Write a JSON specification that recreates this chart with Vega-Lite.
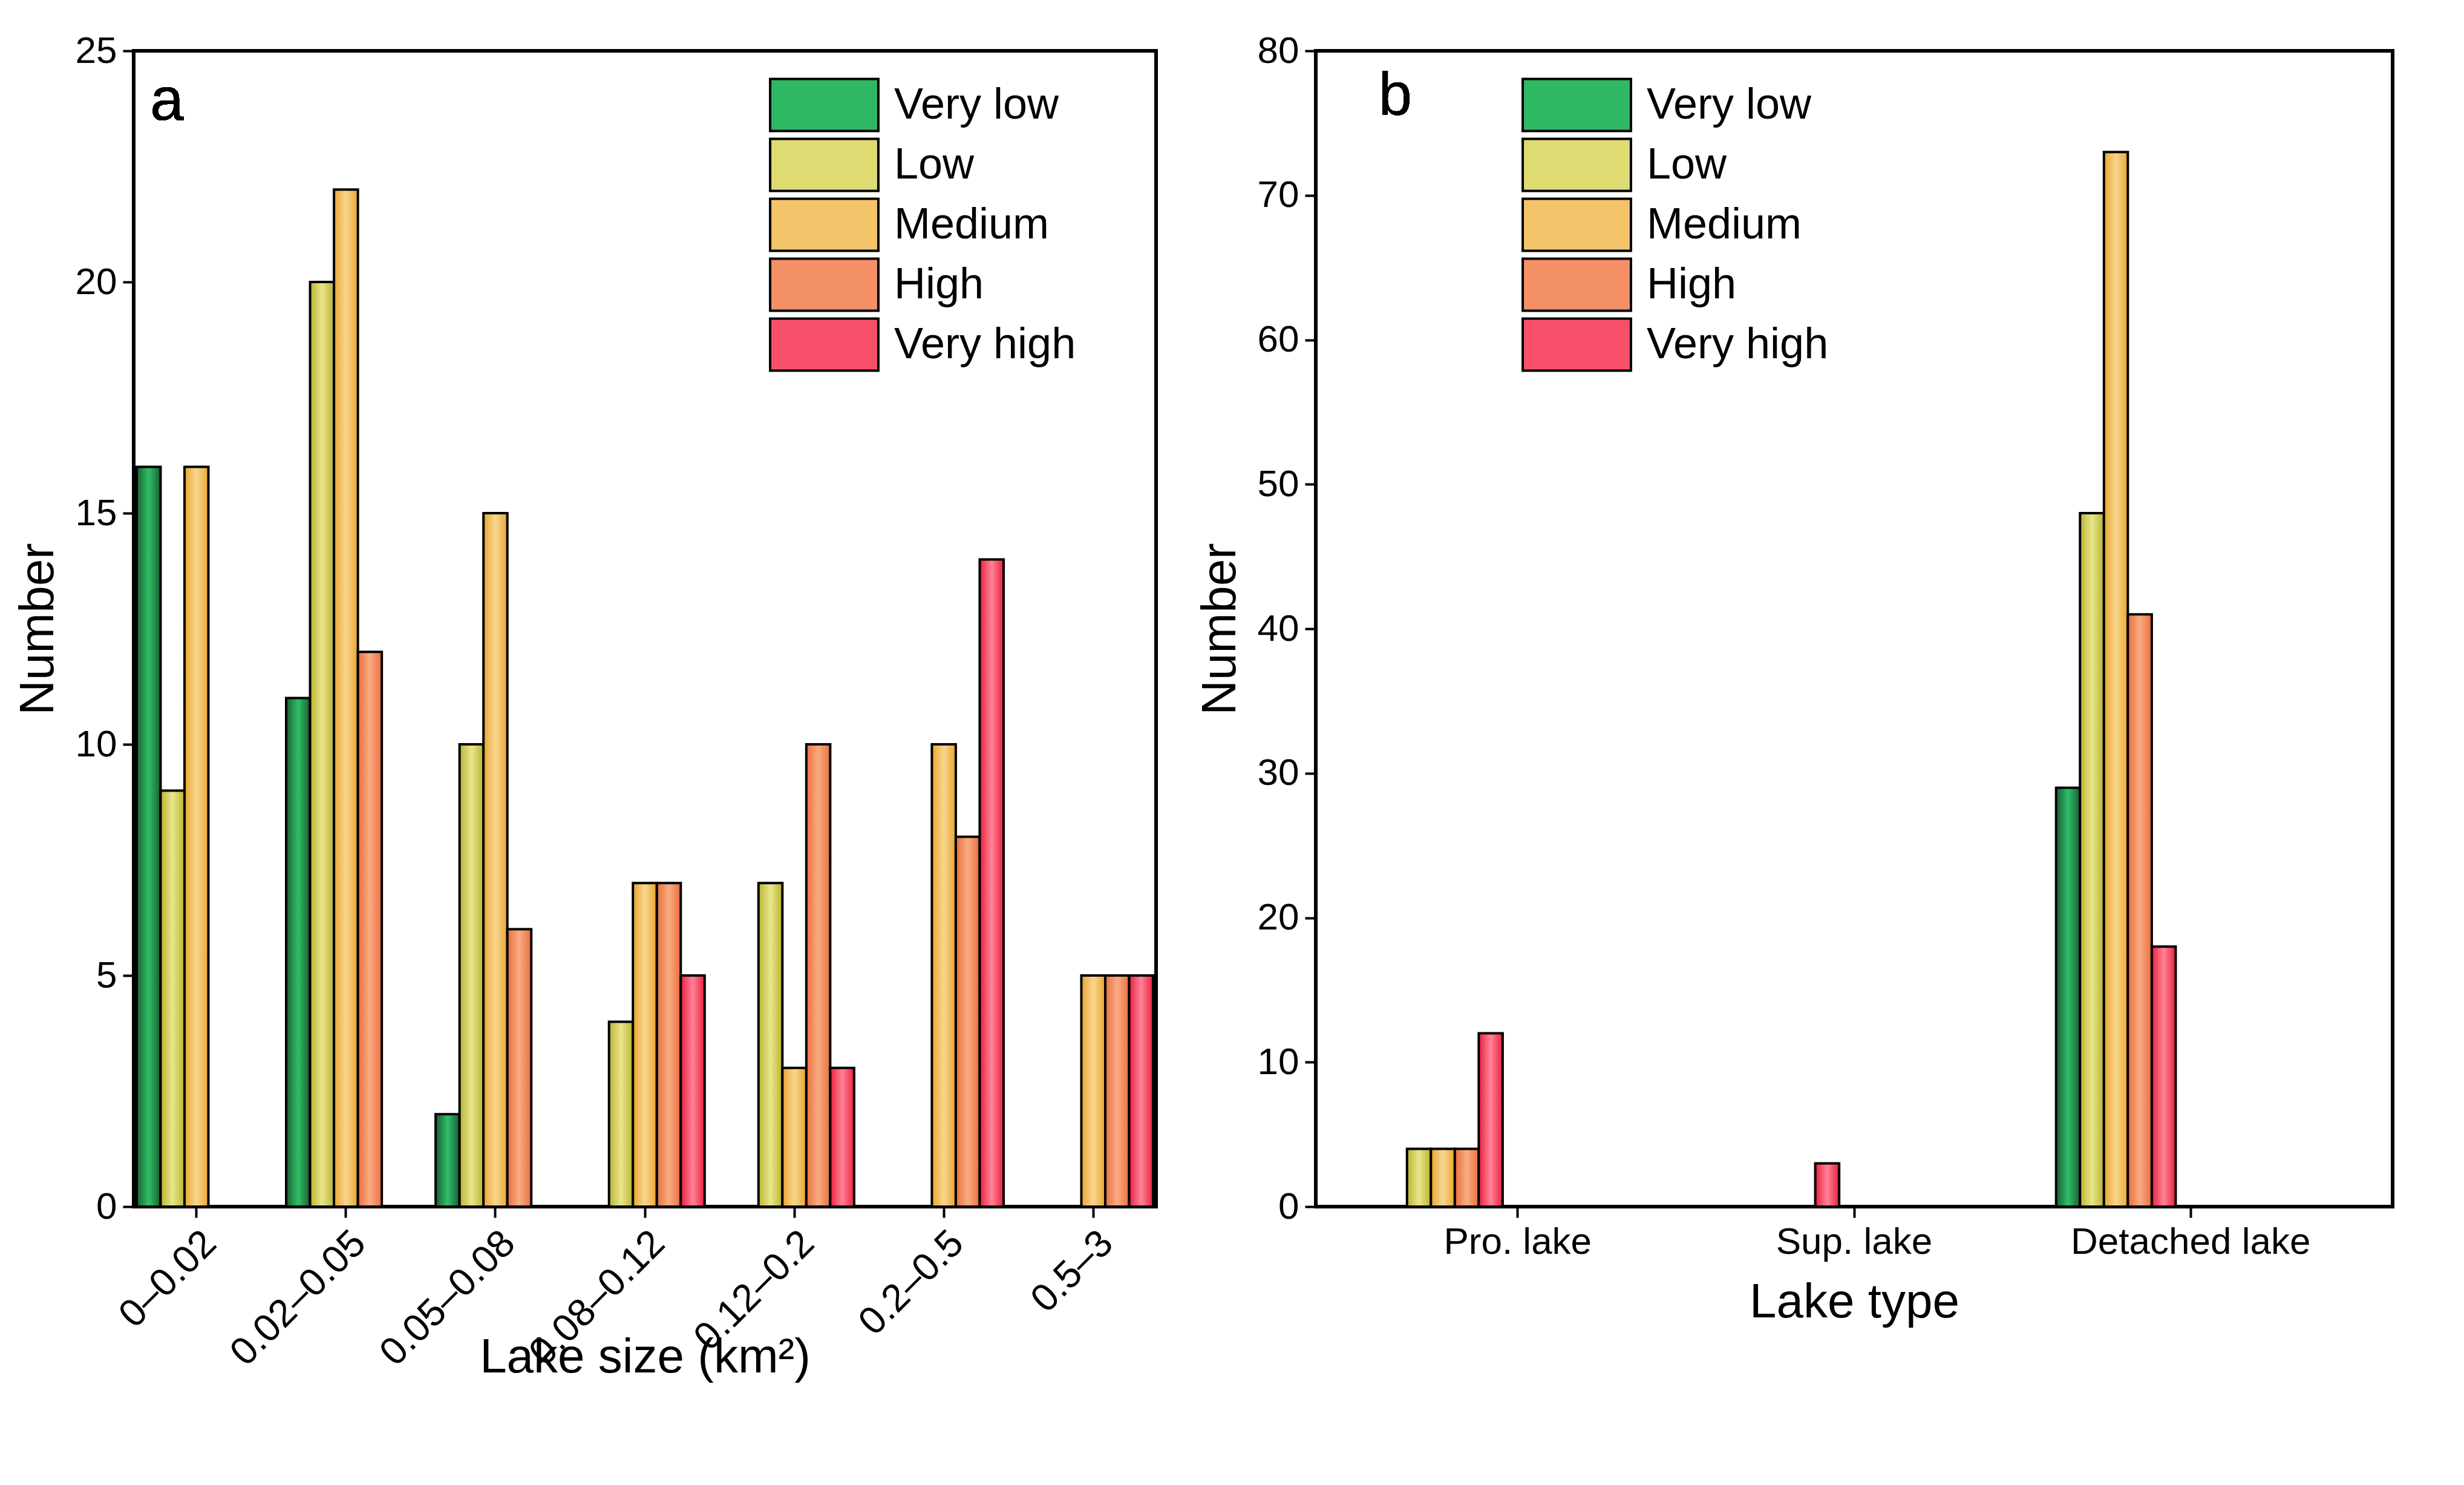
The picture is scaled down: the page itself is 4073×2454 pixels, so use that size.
{
  "$schema": "https://vega.github.io/schema/vega-lite/v6.json",
  "padding": {"left": 20, "top": 50, "right": 20, "bottom": 5},
  "background": "white",
  "config": {
    "font": "Liberation Sans",
    "view": {"stroke": "black", "strokeWidth": 6},
    "axis": {"domain": false, "tickColor": "black", "tickWidth": 4, "tickSize": 18, "labelColor": "black", "titleColor": "black", "labelFontSize": 62, "titleFontSize": 80, "titleFontWeight": "normal", "grid": false, "labelPadding": 10, "labelLimit": 0},
    "legend": {"labelFontSize": 72, "labelColor": "black", "labelLimit": 0, "symbolType": "M-1,-0.48H1V0.48H-1Z", "symbolSize": 32000, "symbolStrokeColor": "black", "symbolStrokeWidth": 4, "symbolOpacity": 1, "rowPadding": 0, "clipHeight": 99, "labelOffset": 24}
  },
  "datasets": {
    "a": [
      {"group": "0–0.02", "level": "Very low", "value": 16},
      {"group": "0–0.02", "level": "Low", "value": 9},
      {"group": "0–0.02", "level": "Medium", "value": 16},
      {"group": "0.02–0.05", "level": "Very low", "value": 11},
      {"group": "0.02–0.05", "level": "Low", "value": 20},
      {"group": "0.02–0.05", "level": "Medium", "value": 22},
      {"group": "0.02–0.05", "level": "High", "value": 12},
      {"group": "0.05–0.08", "level": "Very low", "value": 2},
      {"group": "0.05–0.08", "level": "Low", "value": 10},
      {"group": "0.05–0.08", "level": "Medium", "value": 15},
      {"group": "0.05–0.08", "level": "High", "value": 6},
      {"group": "0.08–0.12", "level": "Low", "value": 4},
      {"group": "0.08–0.12", "level": "Medium", "value": 7},
      {"group": "0.08–0.12", "level": "High", "value": 7},
      {"group": "0.08–0.12", "level": "Very high", "value": 5},
      {"group": "0.12–0.2", "level": "Low", "value": 7},
      {"group": "0.12–0.2", "level": "Medium", "value": 3},
      {"group": "0.12–0.2", "level": "High", "value": 10},
      {"group": "0.12–0.2", "level": "Very high", "value": 3},
      {"group": "0.2–0.5", "level": "Medium", "value": 10},
      {"group": "0.2–0.5", "level": "High", "value": 8},
      {"group": "0.2–0.5", "level": "Very high", "value": 14},
      {"group": "0.5–3", "level": "Medium", "value": 5},
      {"group": "0.5–3", "level": "High", "value": 5},
      {"group": "0.5–3", "level": "Very high", "value": 5}
    ],
    "b": [
      {"group": "Pro. lake", "level": "Low", "value": 4},
      {"group": "Pro. lake", "level": "Medium", "value": 4},
      {"group": "Pro. lake", "level": "High", "value": 4},
      {"group": "Pro. lake", "level": "Very high", "value": 12},
      {"group": "Sup. lake", "level": "Very high", "value": 3},
      {"group": "Detached lake", "level": "Very low", "value": 29},
      {"group": "Detached lake", "level": "Low", "value": 48},
      {"group": "Detached lake", "level": "Medium", "value": 73},
      {"group": "Detached lake", "level": "High", "value": 41},
      {"group": "Detached lake", "level": "Very high", "value": 18}
    ]
  },
  "resolve": {"scale": {"color": "independent"}},
  "spacing": 60,
  "hconcat": [
    {
      "width": 1690,
      "height": 1910,
      "data": {"name": "a"},
      "encoding": {
        "x": {"field": "group", "type": "nominal", "sort": ["0–0.02", "0.02–0.05", "0.05–0.08", "0.08–0.12", "0.12–0.2", "0.2–0.5", "0.5–3"], "scale": {"domain": ["0–0.02", "0.02–0.05", "0.05–0.08", "0.08–0.12", "0.12–0.2", "0.2–0.5", "0.5–3"], "paddingInner": 0.2, "paddingOuter": 0.02}, "axis": {"labelAngle": -45, "title": "Lake size (km²)", "titlePadding": 10, "labelFontSize": 64}},
        "xOffset": {"field": "level", "type": "nominal", "scale": {"domain": ["Very low", "Low", "Medium", "High", "Very high"], "paddingInner": 0}},
        "y": {"field": "value", "type": "quantitative", "scale": {"domain": [0, 25]}, "axis": {"values": [0, 5, 10, 15, 20, 25], "title": "Number", "titlePadding": 20}}
      },
      "layer": [
        {"transform": [{"filter": "datum.level == 'Very low'"}], "mark": {"type": "bar", "stroke": "black", "strokeWidth": 4, "color": {"gradient": "linear", "x1": 0, "x2": 1, "y1": 0, "y2": 0, "stops": [{"offset": 0, "color": "#1a5c34"}, {"offset": 0.5, "color": "#2fc067"}, {"offset": 1, "color": "#1a5c34"}]}}},
        {"transform": [{"filter": "datum.level == 'Low'"}], "mark": {"type": "bar", "stroke": "black", "strokeWidth": 4, "color": {"gradient": "linear", "x1": 0, "x2": 1, "y1": 0, "y2": 0, "stops": [{"offset": 0, "color": "#b9b52e"}, {"offset": 0.5, "color": "#e9e68e"}, {"offset": 1, "color": "#b9b52e"}]}}},
        {"transform": [{"filter": "datum.level == 'Medium'"}], "mark": {"type": "bar", "stroke": "black", "strokeWidth": 4, "color": {"gradient": "linear", "x1": 0, "x2": 1, "y1": 0, "y2": 0, "stops": [{"offset": 0, "color": "#e8a630"}, {"offset": 0.5, "color": "#f8d68e"}, {"offset": 1, "color": "#e8a630"}]}}},
        {"transform": [{"filter": "datum.level == 'High'"}], "mark": {"type": "bar", "stroke": "black", "strokeWidth": 4, "color": {"gradient": "linear", "x1": 0, "x2": 1, "y1": 0, "y2": 0, "stops": [{"offset": 0, "color": "#ea6e3c"}, {"offset": 0.5, "color": "#f8ac84"}, {"offset": 1, "color": "#ea6e3c"}]}}},
        {"transform": [{"filter": "datum.level == 'Very high'"}], "mark": {"type": "bar", "stroke": "black", "strokeWidth": 4, "color": {"gradient": "linear", "x1": 0, "x2": 1, "y1": 0, "y2": 0, "stops": [{"offset": 0, "color": "#ea1f3f"}, {"offset": 0.5, "color": "#ff8496"}, {"offset": 1, "color": "#ea1f3f"}]}}},
        {"mark": {"type": "bar", "opacity": 0}, "encoding": {"color": {"field": "level", "type": "nominal", "scale": {"domain": ["Very low", "Low", "Medium", "High", "Very high"], "range": ["#2fb862", "#dedb72", "#f4c46a", "#f49068", "#f8506a"]}, "legend": {"title": null, "orient": "none", "legendX": 1050, "legendY": 40}}}},
        {"mark": {"type": "text", "fontSize": 100, "align": "center", "baseline": "middle", "dx": 50, "color": "black"}, "encoding": {"x": {"datum": "0–0.02"}, "y": {"datum": 23.9}, "text": {"value": "a"}, "xOffset": {"value": 0}}}
      ]
    },
    {
      "width": 1780,
      "height": 1910,
      "data": {"name": "b"},
      "encoding": {
        "x": {"field": "group", "type": "nominal", "sort": ["Pro. lake", "Sup. lake", "Detached lake"], "scale": {"domain": ["Pro. lake", "Sup. lake", "Detached lake"], "paddingInner": 0.2, "paddingOuter": 0.2}, "axis": {"labelAngle": 0, "title": "Lake type", "titlePadding": 30}},
        "xOffset": {"field": "level", "type": "nominal", "scale": {"domain": ["Very low", "Low", "Medium", "High", "Very high"], "paddingInner": 0}},
        "y": {"field": "value", "type": "quantitative", "scale": {"domain": [0, 80]}, "axis": {"values": [0, 10, 20, 30, 40, 50, 60, 70, 80], "title": "Number", "titlePadding": 20}}
      },
      "layer": [
        {"transform": [{"filter": "datum.level == 'Very low'"}], "mark": {"type": "bar", "stroke": "black", "strokeWidth": 4, "color": {"gradient": "linear", "x1": 0, "x2": 1, "y1": 0, "y2": 0, "stops": [{"offset": 0, "color": "#1a5c34"}, {"offset": 0.5, "color": "#2fc067"}, {"offset": 1, "color": "#1a5c34"}]}}},
        {"transform": [{"filter": "datum.level == 'Low'"}], "mark": {"type": "bar", "stroke": "black", "strokeWidth": 4, "color": {"gradient": "linear", "x1": 0, "x2": 1, "y1": 0, "y2": 0, "stops": [{"offset": 0, "color": "#b9b52e"}, {"offset": 0.5, "color": "#e9e68e"}, {"offset": 1, "color": "#b9b52e"}]}}},
        {"transform": [{"filter": "datum.level == 'Medium'"}], "mark": {"type": "bar", "stroke": "black", "strokeWidth": 4, "color": {"gradient": "linear", "x1": 0, "x2": 1, "y1": 0, "y2": 0, "stops": [{"offset": 0, "color": "#e8a630"}, {"offset": 0.5, "color": "#f8d68e"}, {"offset": 1, "color": "#e8a630"}]}}},
        {"transform": [{"filter": "datum.level == 'High'"}], "mark": {"type": "bar", "stroke": "black", "strokeWidth": 4, "color": {"gradient": "linear", "x1": 0, "x2": 1, "y1": 0, "y2": 0, "stops": [{"offset": 0, "color": "#ea6e3c"}, {"offset": 0.5, "color": "#f8ac84"}, {"offset": 1, "color": "#ea6e3c"}]}}},
        {"transform": [{"filter": "datum.level == 'Very high'"}], "mark": {"type": "bar", "stroke": "black", "strokeWidth": 4, "color": {"gradient": "linear", "x1": 0, "x2": 1, "y1": 0, "y2": 0, "stops": [{"offset": 0, "color": "#ea1f3f"}, {"offset": 0.5, "color": "#ff8496"}, {"offset": 1, "color": "#ea1f3f"}]}}},
        {"mark": {"type": "bar", "opacity": 0}, "encoding": {"color": {"field": "level", "type": "nominal", "scale": {"domain": ["Very low", "Low", "Medium", "High", "Very high"], "range": ["#2fb862", "#dedb72", "#f4c46a", "#f49068", "#f8506a"]}, "legend": {"title": null, "orient": "none", "legendX": 340, "legendY": 40}}}},
        {"mark": {"type": "text", "fontSize": 100, "align": "center", "baseline": "middle", "dx": 20, "color": "black"}, "encoding": {"x": {"datum": "Pro. lake"}, "y": {"datum": 76.8}, "text": {"value": "b"}, "xOffset": {"value": 0}}}
      ]
    }
  ]
}
